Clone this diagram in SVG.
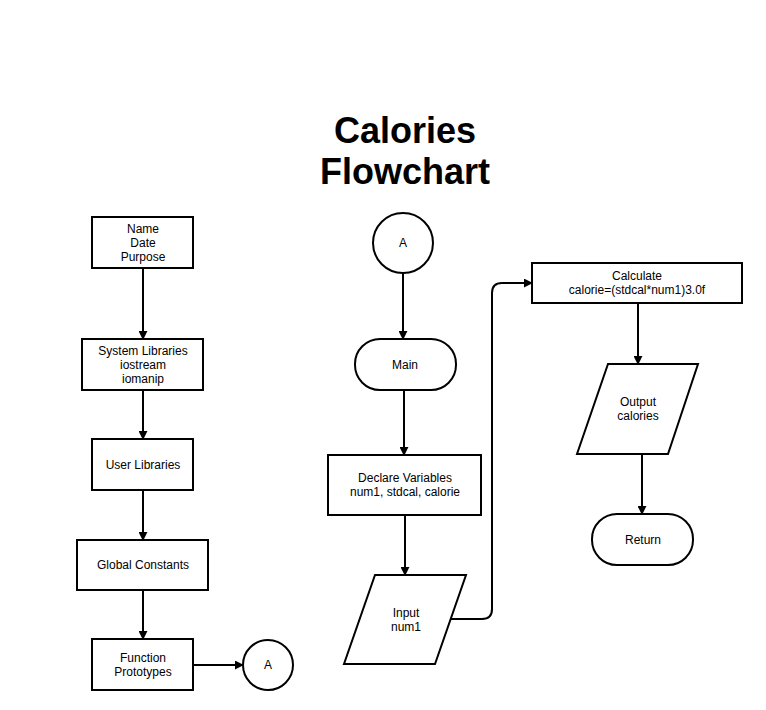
<svg xmlns="http://www.w3.org/2000/svg" width="766" height="710" viewBox="0 0 766 710">
<defs>
<marker id="arr" viewBox="0 0 10 10" refX="9" refY="5" markerWidth="4.5" markerHeight="4.5" orient="auto" markerUnits="strokeWidth">
<path d="M0,0 L10,5 L0,10 z" fill="#000"/>
</marker>
<style>
.shape{fill:#fff;stroke:#000;stroke-width:2}
.edge{fill:none;stroke:#000;stroke-width:2;marker-end:url(#arr)}
.t{font-family:"Liberation Sans",Arial,sans-serif;font-size:12px;fill:#000;text-anchor:middle}
.title{font-family:"Liberation Sans",Arial,sans-serif;font-size:36px;font-weight:bold;fill:#000;text-anchor:middle}
</style>
</defs>
<rect width="766" height="710" fill="#fff"/>
<g id="title">
<text class="title" x="405" y="143">Calories</text>
<text class="title" x="405" y="184">Flowchart</text>
</g>
<g id="connectors">
<path class="edge" d="M143,268 V339"/>
<path class="edge" d="M143,390 V439"/>
<path class="edge" d="M143,490 V540"/>
<path class="edge" d="M143,590 V639"/>
<path class="edge" d="M193,665 H243"/>
<path class="edge" d="M403,273 V339"/>
<path class="edge" d="M404,390 V455"/>
<path class="edge" d="M405,515 V575"/>
<path class="edge" d="M451,619 H482 Q492,619 492,609 V293 Q492,283 502,283 H532"/>
<path class="edge" d="M638,303 V364"/>
<path class="edge" d="M642,454 V514"/>
</g>
<g id="n_name">
<rect class="shape" x="92" y="217" width="101" height="51"/>
<text class="t" x="143" y="233">Name</text>
<text class="t" x="143" y="247">Date</text>
<text class="t" x="143" y="261">Purpose</text>
</g>
<g id="n_syslib">
<rect class="shape" x="82" y="339" width="121" height="51"/>
<text class="t" x="143" y="355">System Libraries</text>
<text class="t" x="143" y="369">iostream</text>
<text class="t" x="143" y="383">iomanip</text>
</g>
<g id="n_userlib">
<rect class="shape" x="92" y="439" width="101" height="51"/>
<text class="t" x="143" y="469">User Libraries</text>
</g>
<g id="n_global">
<rect class="shape" x="77" y="540" width="131" height="50"/>
<text class="t" x="143" y="569">Global Constants</text>
</g>
<g id="n_proto">
<rect class="shape" x="92" y="639" width="101" height="51"/>
<text class="t" x="143" y="662">Function</text>
<text class="t" x="143" y="676">Prototypes</text>
</g>
<g id="n_a1">
<circle class="shape" cx="268" cy="665" r="25"/>
<text class="t" x="268" y="669">A</text>
</g>
<g id="n_a2">
<circle class="shape" cx="403" cy="243" r="30"/>
<text class="t" x="403" y="247">A</text>
</g>
<g id="n_main">
<rect class="shape" x="355" y="339" width="101" height="51" rx="25" ry="25"/>
<text class="t" x="405" y="369">Main</text>
</g>
<g id="n_declare">
<rect class="shape" x="328" y="455" width="153" height="60"/>
<text class="t" x="405" y="482">Declare Variables</text>
<text class="t" x="405" y="496">num1, stdcal, calorie</text>
</g>
<g id="n_input">
<polygon class="shape" points="375,575 466,575 435,664 344,664"/>
<text class="t" x="406" y="617">Input</text>
<text class="t" x="406" y="631">num1</text>
</g>
<g id="n_calc">
<rect class="shape" x="532" y="263" width="210" height="40"/>
<text class="t" x="637" y="280">Calculate</text>
<text class="t" x="637" y="294">calorie=(stdcal*num1)3.0f</text>
</g>
<g id="n_output">
<polygon class="shape" points="608,364 698,364 668,454 577,454"/>
<text class="t" x="638" y="406">Output</text>
<text class="t" x="638" y="420">calories</text>
</g>
<g id="n_return">
<rect class="shape" x="592" y="514" width="101" height="51" rx="25" ry="25"/>
<text class="t" x="643" y="544">Return</text>
</g>
</svg>
